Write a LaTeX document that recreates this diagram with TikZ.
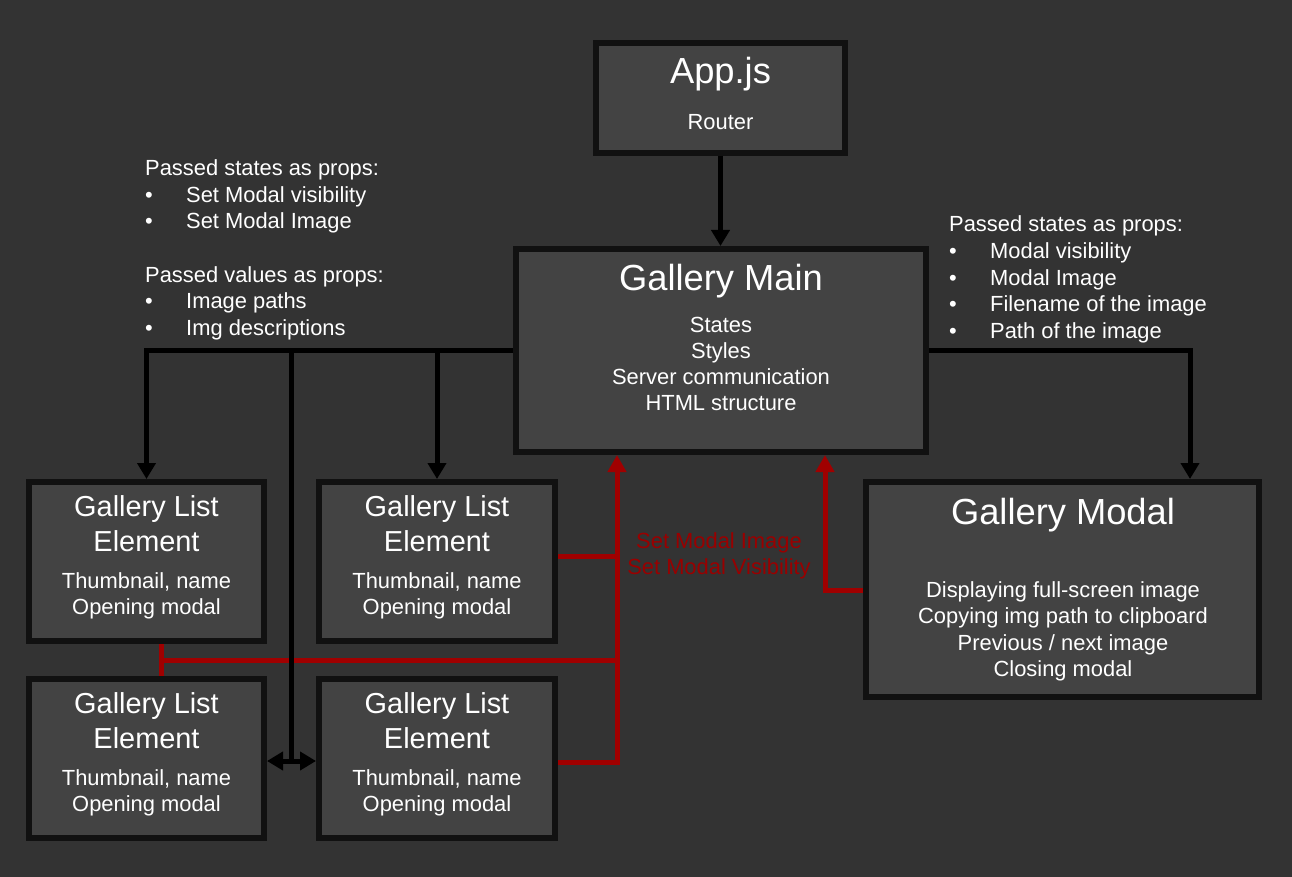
\documentclass[tikz,border=0pt]{standalone}
\usepackage{fontspec}
\setmainfont{Liberation Sans}
\usetikzlibrary{arrows.meta}
\definecolor{bg}{HTML}{333333}
\definecolor{boxfill}{HTML}{434343}
\definecolor{boxline}{HTML}{111111}
\definecolor{redline}{HTML}{A00000}
\definecolor{redtext}{HTML}{990000}
\newcommand\bulitem[1]{\makebox[41pt][l]{•}#1}
\tikzset{
  box/.style={draw=boxline, line width=6pt, fill=boxfill, inner sep=0pt},
  txt/.style={text=white, inner sep=0pt, anchor=base, font=\fontsize{21.9}{26.5}\selectfont},
  ltxt/.style={txt, anchor=base west},
  rtxt/.style={txt, text=redtext},
  ttl/.style={text=white, inner sep=0pt, anchor=base, font=\fontsize{36.3}{40}\selectfont},
  sttl/.style={text=white, inner sep=0pt, anchor=base, font=\fontsize{28.9}{34}\selectfont},
  conn/.style={draw=black, line width=5pt},
  tip/.tip={Triangle[width=18pt,length=16pt]},
  arr/.style={conn, -tip},
  dblarr/.style={conn, tip-tip},
  rconn/.style={draw=redline, line width=5pt},
  rarr/.style={rconn, -{Triangle[width=18pt,length=17pt]}},
}
\begin{document}
\begin{tikzpicture}[x=1pt, y=-1pt]
\fill[bg] (0,0) rectangle (1292,877);
\useasboundingbox (0,0) rectangle (1292,877);

% boxes
\node[box, minimum width=249pt, minimum height=110pt] (app) at (720.5,98) {};
\node[box, minimum width=410pt, minimum height=203pt] (main) at (721,350.5) {};
\node[box, minimum width=235pt, minimum height=159pt] (l1) at (146.5,561.5) {};
\node[box, minimum width=236pt, minimum height=159pt] (l2) at (437,561.5) {};
\node[box, minimum width=235pt, minimum height=159pt] (l3) at (146.5,758.5) {};
\node[box, minimum width=236pt, minimum height=159pt] (l4) at (437,758.5) {};
\node[box, minimum width=393pt, minimum height=215pt] (modal) at (1062.5,589.5) {};

% red connectors (below black)
\coordinate (rA) at (617,762);
\coordinate (rB) at (617,556);
\coordinate (rC) at (617,660);
\coordinate (rD) at (161,660);
\coordinate (rE) at (825,590);
\draw[rarr] (l4.east |- rA) -- (rA) -- (rA |- main.south);
\draw[rconn] (l2.east |- rB) -- (rB);
\draw[rconn] (rD) -- (rC);
\draw[rconn] (l1.south -| rD) -- (l3.north -| rD);
\draw[rarr] (modal.west |- rE) -- (rE) -- (rE |- main.south);

% black connectors
\draw[arr] (app.south) -- (app.south |- main.north);
\draw[arr] (main.west) -| (l1.north);
\draw[arr] (l2.north |- main.west) -- (l2.north);
\coordinate (bV) at (291,761);
\draw[conn] (bV |- main.west) -- (bV);
\draw[dblarr] (l3.east |- bV) -- (l4.west |- bV);
\coordinate (bR) at (1190,0);
\draw[arr] (main.east) -| (bR |- modal.north);

% texts in boxes
\node[ttl] (appt) at (720.5,84) {App.js};
\node[txt] (appr) at (720.5,130) {Router};
\node[ttl] (maint) at (721,290) {Gallery Main};
\foreach \t [count=\i] in {States,Styles,Server communication,HTML structure}
  \node[txt] (main-\i) at (721,{332+26.3*(\i-1)}) {\t};
\foreach \b/\cx/\dy in {l1/146.5/0, l2/437/0, l3/146.5/197, l4/437/197} {
  \node[sttl] (\b-t1) at (\cx,{516+\dy}) {Gallery List};
  \node[sttl] (\b-t2) at (\cx,{551+\dy}) {Element};
  \node[txt] (\b-s1) at (\cx,{588.5+\dy}) {Thumbnail, name};
  \node[txt] (\b-s2) at (\cx,{614.5+\dy}) {Opening modal};
}
\node[ttl] (modalt) at (1063,524) {Gallery Modal};
\foreach \t [count=\i] in {Displaying full-screen image,Copying img path to clipboard,Previous / next image,Closing modal}
  \node[txt] (modal-\i) at (1063,{597+26.5*(\i-1)}) {\t};

% side texts
\node[ltxt] (ls1) at (145,176) {Passed states as props:};
\node[ltxt] (ls2) at (145,202.5) {\bulitem{Set Modal visibility}};
\node[ltxt] (ls3) at (145,229) {\bulitem{Set Modal Image}};
\node[ltxt] (lv1) at (145,282) {Passed values as props:};
\node[ltxt] (lv2) at (145,308.5) {\bulitem{Image paths}};
\node[ltxt] (lv3) at (145,335) {\bulitem{Img descriptions}};

\node[ltxt] (rs1) at (949,232) {Passed states as props:};
\node[ltxt] (rs2) at (949,258.5) {\bulitem{Modal visibility}};
\node[ltxt] (rs3) at (949,285) {\bulitem{Modal Image}};
\node[ltxt] (rs4) at (949,311.5) {\bulitem{Filename of the image}};
\node[ltxt] (rs5) at (949,338) {\bulitem{Path of the image}};

% red label
\node[rtxt] (red1) at (719,548) {Set Modal Image};
\node[rtxt] (red2) at (719,574.5) {Set Modal Visibility};
\end{tikzpicture}
\end{document}
